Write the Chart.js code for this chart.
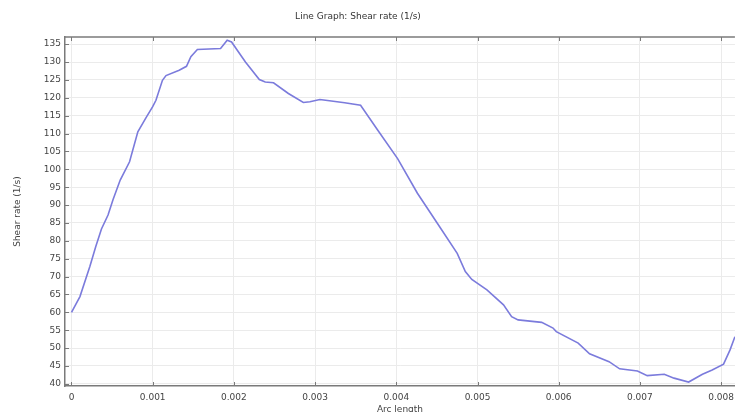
<!DOCTYPE html>
<html>
<head>
<meta charset="utf-8">
<script src="https://cdn.jsdelivr.net/npm/chart.js@4.4.0/dist/chart.umd.js"></script>
<style>
    html, body { margin: 0; padding: 0; background: #fff; }
    #wrap { width: 740px; height: 412px; }
</style>
</head>
<body>
<div id="wrap"><canvas id="shear-chart" width="740" height="412"></canvas></div>
<script>
// Shear rate along arc length
const chartTitle = 'Line Graph: Shear rate (1/s)';
const xTitle = 'Arc length';
const yTitle = 'Shear rate (1/s)';

const arcLength = [
    0, 0.000104, 0.000226, 0.0003, 0.000369, 0.00045, 0.000511, 0.0006, 0.000715, 0.000817,
    0.00092, 0.001, 0.00104, 0.00112, 0.001164, 0.001326, 0.001416, 0.00147, 0.00155, 0.001836,
    0.001917, 0.001971, 0.002142, 0.002313, 0.002386, 0.002488, 0.002671, 0.002855, 0.002936, 0.003059,
    0.0032, 0.003364, 0.00356, 0.00377, 0.004016, 0.00426, 0.004505, 0.00475, 0.00485, 0.00493,
    0.005116, 0.00532, 0.00542, 0.0055, 0.00579, 0.00593, 0.00597, 0.00624, 0.00638, 0.00662,
    0.00675, 0.00697, 0.00709, 0.0073, 0.00742, 0.0076, 0.00777, 0.00789, 0.00803, 0.00811,
    0.00817, 0.00822
];
const shearRate = [
    60, 64.4, 72.8, 78.5, 83.3, 87.2, 91.5, 97.0, 102.1, 110.5,
    114.5, 117.5, 119.3, 124.9, 126.2, 127.7, 128.8, 131.5, 133.5, 133.8,
    136.1, 135.6, 130.0, 125.1, 124.4, 124.2, 121.2, 118.7, 118.9, 119.5,
    119.1, 118.6, 117.9, 111, 103, 93.3, 84.9, 76.5, 71.4, 69.2,
    66.3, 62.1, 58.8, 57.9, 57.2, 55.6, 54.6, 51.4, 48.4, 46.2,
    44.2, 43.6, 42.3, 42.7, 41.6, 40.5, 42.7, 43.9, 45.5, 49.5,
    53.2, 56
];

const xRange = [-0.00008, 0.00817];
const yRange = [39.4, 137];
const xStep = 0.001;
const yStep = 5;

const fontFamily = '"DejaVu Sans", sans-serif';
const textColor = '#444';
const axisColor = '#7a7a7a';

// title, top frame and inward tick marks
const framePlugin = {
    id: 'frame',
    afterDraw(chart) {
        const { ctx, chartArea, scales } = chart;
        ctx.save();
        ctx.strokeStyle = axisColor;
        ctx.lineWidth = 1.5;
        ctx.beginPath();
        ctx.moveTo(chartArea.left, chartArea.top);
        ctx.lineTo(chartArea.right, chartArea.top);
        ctx.stroke();

        ctx.lineWidth = 1;
        ctx.beginPath();
        scales.x.ticks.forEach(t => {
            const px = Math.round(scales.x.getPixelForValue(t.value)) + 0.5;
            ctx.moveTo(px, chartArea.bottom);
            ctx.lineTo(px, chartArea.bottom - 4);
            ctx.moveTo(px, chartArea.top);
            ctx.lineTo(px, chartArea.top + 4);
        });
        scales.y.ticks.forEach(t => {
            const py = Math.round(scales.y.getPixelForValue(t.value)) + 0.5;
            ctx.moveTo(chartArea.left, py);
            ctx.lineTo(chartArea.left + 4, py);
        });
        ctx.stroke();

        ctx.fillStyle = '#333';
        ctx.font = '9px ' + fontFamily;
        ctx.textAlign = 'center';
        ctx.textBaseline = 'middle';
        ctx.fillText(chartTitle, 358, 17);
        ctx.restore();
    }
};

new Chart(document.getElementById('shear-chart').getContext('2d'), {
    type: 'line',
    data: {
        datasets: [{
            label: yTitle,
            data: arcLength.map((x, i) => ({ x: x, y: shearRate[i] })),
            borderColor: '#7b7bdc',
            borderWidth: 1.6,
            tension: 0,
            fill: false,
            pointRadius: 0
        }]
    },
    options: {
        responsive: false,
        animation: false,
        devicePixelRatio: 1,
        layout: {
            padding: { left: 0, top: 37, right: 0, bottom: 0 }
        },
        plugins: {
            legend: { display: false },
            tooltip: { enabled: false }
        },
        scales: {
            x: {
                type: 'linear',
                min: xRange[0],
                max: xRange[1],
                afterFit: function(scale) { scale.height = 26; },
                border: { color: axisColor, width: 1.5 },
                grid: { color: '#ebebeb', drawTicks: false, tickLength: 0 },
                ticks: {
                    stepSize: xStep,
                    includeBounds: false,
                    autoSkip: false,
                    maxRotation: 0,
                    padding: 6,
                    color: textColor,
                    font: { family: fontFamily, size: 9 },
                    callback: function(value) {
                        return parseFloat(value.toFixed(3)).toString();
                    }
                },
                title: {
                    display: true,
                    text: xTitle,
                    color: textColor,
                    font: { family: fontFamily, size: 9 },
                    padding: { top: 0, bottom: -3 }
                }
            },
            y: {
                type: 'linear',
                min: yRange[0],
                max: yRange[1],
                afterFit: function(scale) { scale.width = 65; },
                border: { color: axisColor, width: 1.5 },
                grid: { color: '#ebebeb', drawTicks: false, tickLength: 0 },
                ticks: {
                    stepSize: yStep,
                    includeBounds: false,
                    autoSkip: false,
                    padding: 4,
                    color: textColor,
                    font: { family: fontFamily, size: 9 }
                },
                title: {
                    display: true,
                    text: yTitle,
                    color: textColor,
                    font: { family: fontFamily, size: 9 },
                    padding: { top: 12, bottom: 0 }
                }
            }
        }
    },
    plugins: [framePlugin]
});
</script>
</body>
</html>
